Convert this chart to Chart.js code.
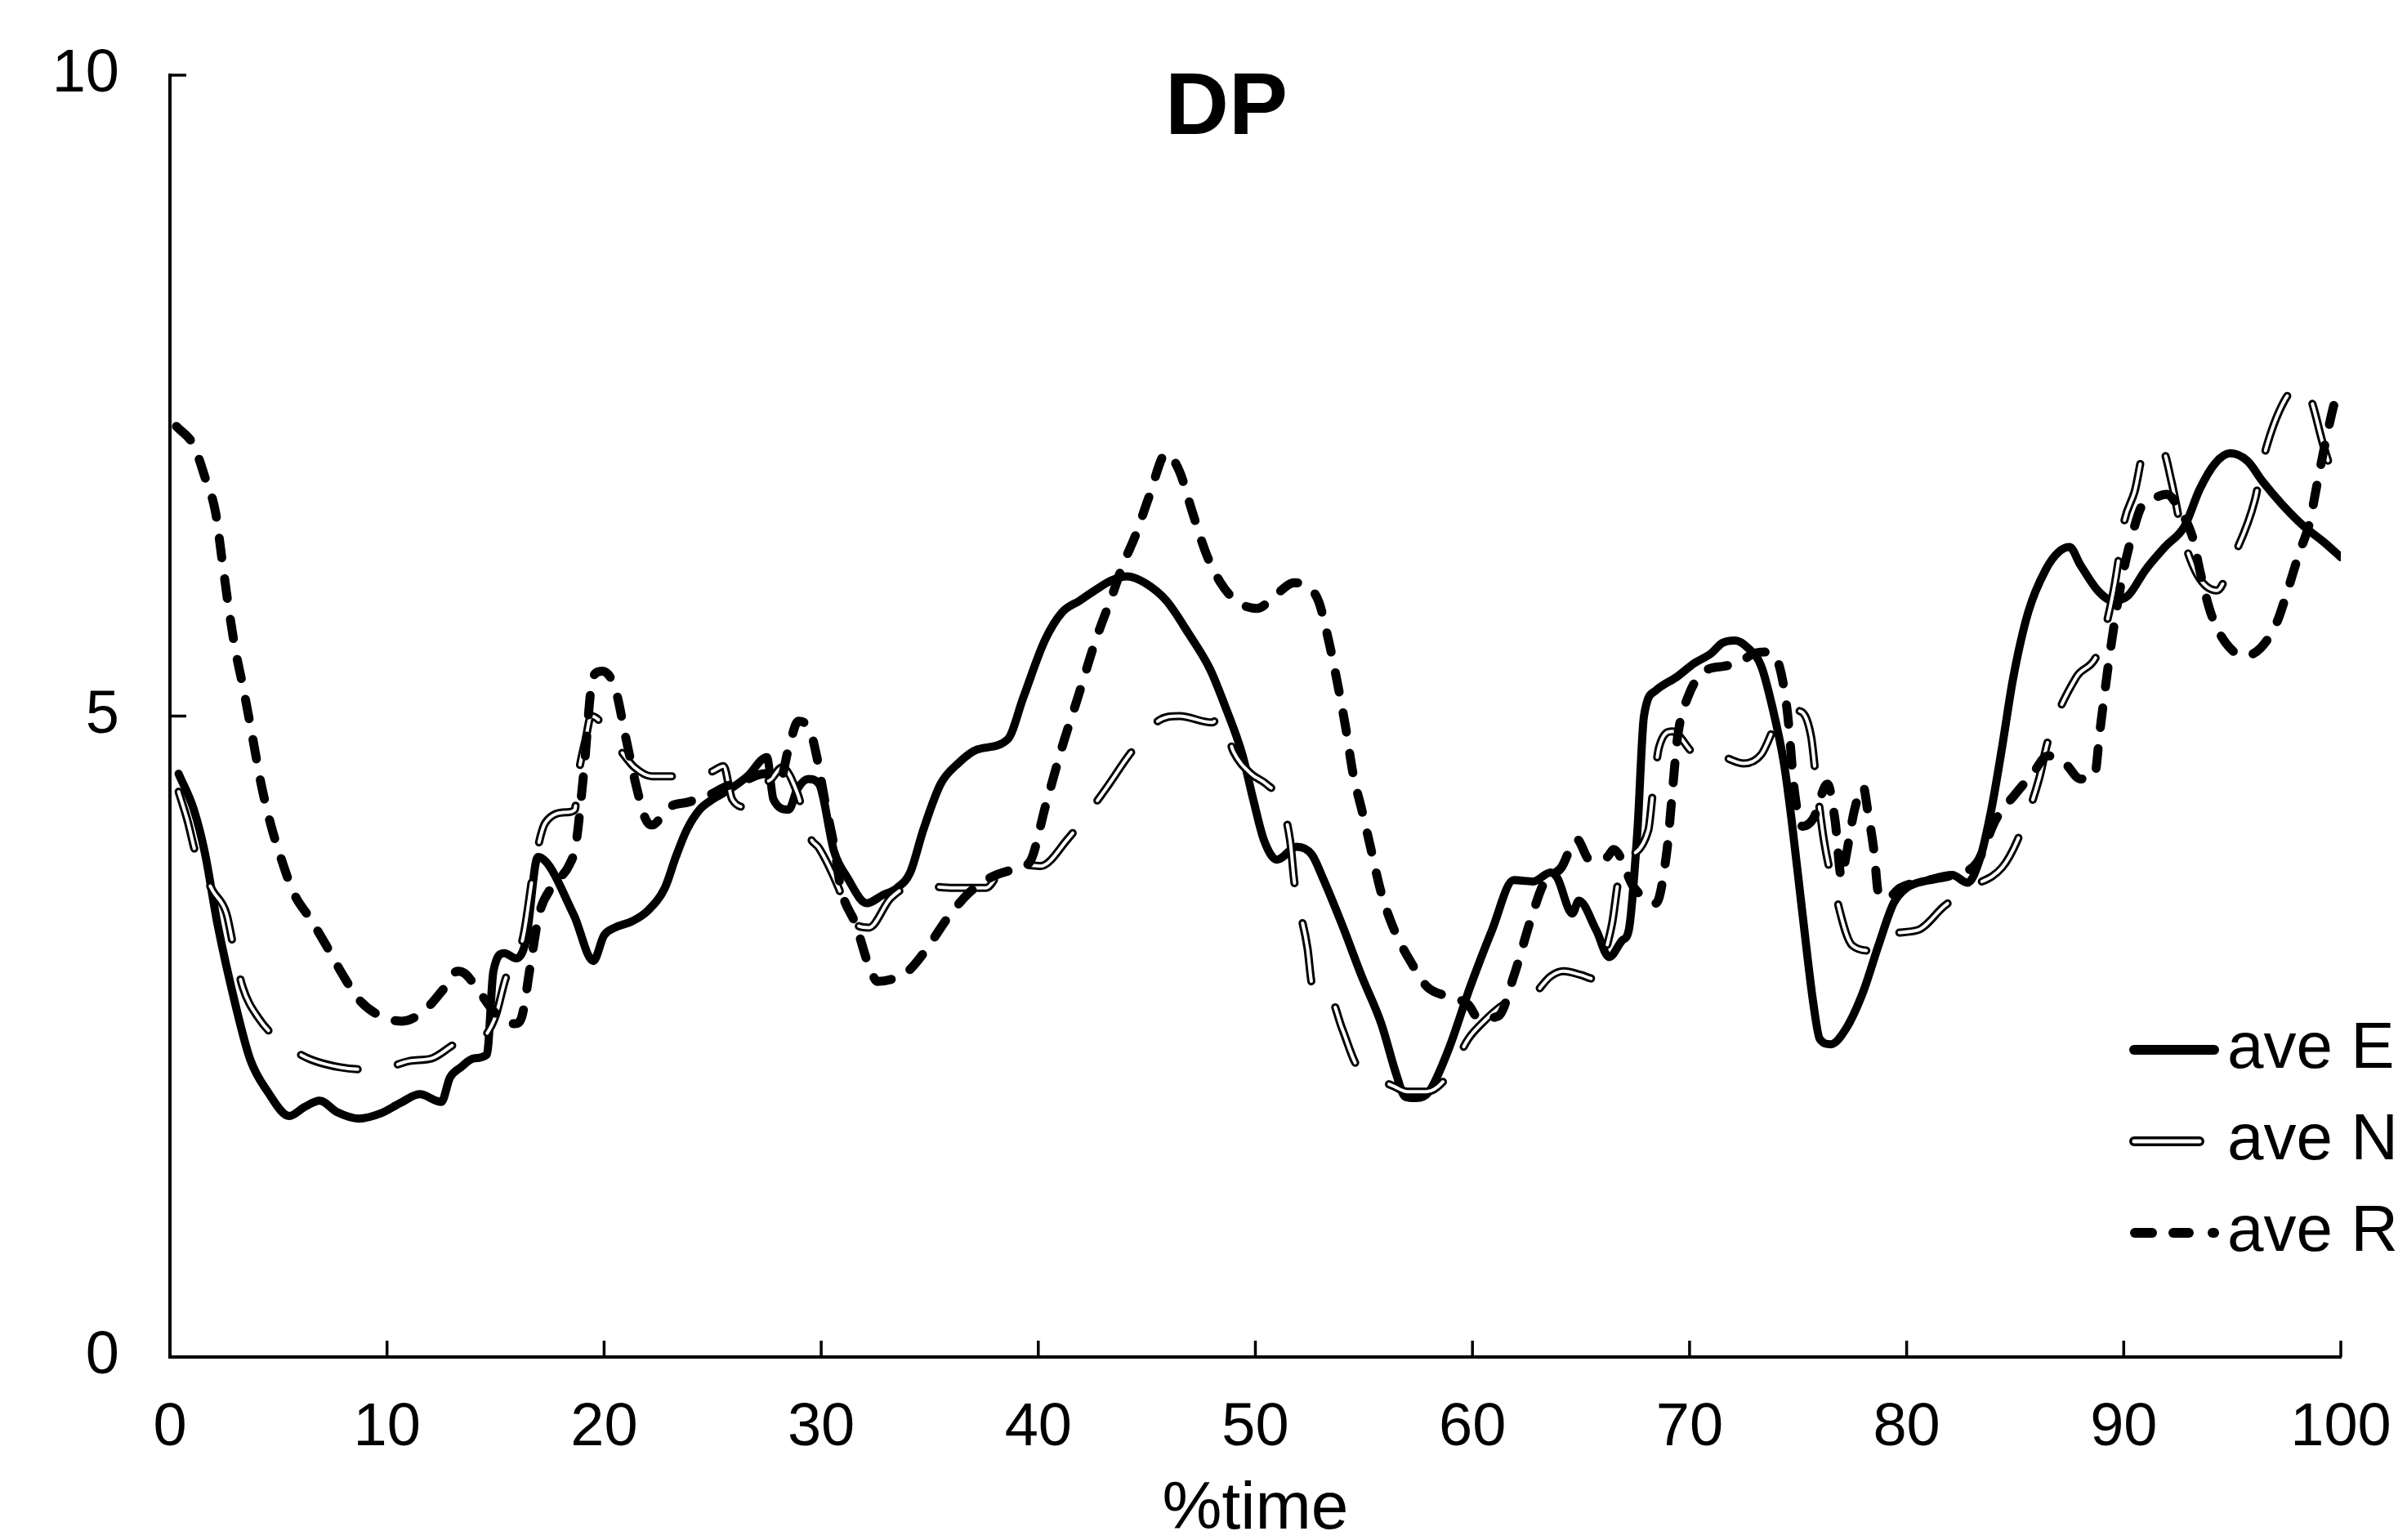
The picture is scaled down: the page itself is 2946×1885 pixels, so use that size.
<!DOCTYPE html>
<html>
<head>
<meta charset="utf-8">
<script src="https://cdn.jsdelivr.net/npm/chart.js@4.4.1/dist/chart.umd.min.js"></script>
<style>
html,body{margin:0;padding:0;background:#ffffff;}
#wrap{width:2946px;height:1885px;}
canvas{display:block;}
</style>
</head>
<body>
<div id="wrap"><canvas id="c" width="2946" height="1885"></canvas></div>
<script>
// ---------- data ----------
const TITLE = 'DP';
const X_TITLE = '%time';
const SERIES_LABELS = ['ave E', 'ave N', 'ave R'];
const X_TICKS = [0, 10, 20, 30, 40, 50, 60, 70, 80, 90, 100];
const Y_TICKS = [0, 5, 10];

const E_X = [0.4,1.1,1.6,2.2,3.0,3.7,4.5,5.5,6.2,6.9,7.7,8.7,9.7,10.6,11.5,12.5,12.9,13.4,14.0,14.6,14.9,15.4,15.95,16.4,16.95,18.6,19.5,20.0,20.5,21.3,22.0,22.8,23.3,23.8,24.4,25.0,25.8,26.6,27.5,27.8,28.5,28.9,29.4,29.9,30.6,31.2,32.1,32.8,33.5,34.1,34.7,35.5,36.3,37.2,38.6,39.3,40.3,41.1,41.9,42.6,43.4,44.1,44.9,45.9,46.9,47.9,48.6,49.4,49.9,50.4,51.0,51.9,52.6,53.1,54.0,54.9,55.8,56.5,56.9,57.4,58.0,58.9,59.9,60.9,61.9,62.8,63.6,63.9,64.6,64.9,65.7,66.3,66.9,67.2,67.6,67.9,68.45,69.45,70.2,71.0,71.5,72.1,72.7,73.3,73.8,74.35,74.7,75.2,75.7,76.0,76.5,77.2,78.0,78.7,79.4,80.0,81.0,82.1,82.8,83.4,83.9,84.4,84.9,85.6,86.4,87.0,87.5,88.0,88.8,89.5,90.2,91.0,91.9,92.8,93.5,94.2,94.9,95.7,96.4,97.3,98.3,99.2,100];
const E_Y = [4.55,4.27,3.94,3.37,2.76,2.32,2.07,1.88,1.95,2.00,1.91,1.86,1.90,1.98,2.05,1.99,2.18,2.26,2.33,2.36,3.01,3.15,3.11,3.25,3.90,3.45,3.09,3.29,3.35,3.40,3.48,3.66,3.90,4.11,4.27,4.35,4.43,4.53,4.68,4.35,4.27,4.43,4.51,4.47,3.94,3.74,3.54,3.60,3.66,3.78,4.11,4.47,4.63,4.74,4.82,5.14,5.59,5.81,5.90,5.98,6.06,6.09,6.04,5.90,5.65,5.37,5.08,4.70,4.35,4.03,3.88,3.98,3.92,3.74,3.37,2.97,2.60,2.20,2.03,2.02,2.07,2.40,2.89,3.33,3.72,3.71,3.78,3.74,3.46,3.56,3.33,3.12,3.25,3.33,4.11,5.00,5.20,5.31,5.41,5.49,5.57,5.59,5.53,5.39,5.08,4.63,4.19,3.46,2.76,2.48,2.44,2.56,2.85,3.21,3.54,3.66,3.72,3.76,3.70,3.90,4.27,4.76,5.29,5.81,6.14,6.28,6.32,6.18,5.98,5.90,5.94,6.14,6.32,6.48,6.77,6.97,7.05,6.99,6.83,6.65,6.48,6.36,6.24];

const N_X = [0.4,0.8,1.2,1.5,1.96,2.6,2.96,3.34,4.1,5.1,5.8,6.5,7.85,9.5,11.05,12.06,13.5,14.0,14.5,15.0,15.5,15.9,16.3,16.8,17.3,18.3,18.65,18.8,19.15,19.4,20.8,21.4,22.2,23.8,25.0,25.5,25.9,26.55,27.2,27.7,28.2,28.9,29.5,29.9,30.8,31.3,32.2,33.2,34.3,36.1,37.6,38.3,39.3,40.1,41.35,43.1,44.2,45.5,46.5,48.0,48.4,49.0,49.8,50.5,51.1,51.6,51.8,52.4,52.6,53.0,53.4,54.0,54.65,55.3,56.4,57.0,57.9,58.9,59.8,60.3,61.55,62.7,63.6,64.2,65.0,65.6,65.9,66.2,66.45,66.7,66.85,68.1,68.3,68.6,69.2,70.3,71.5,72.5,73.3,74.2,75.0,75.6,75.85,76.2,76.6,77.5,78.4,79.0,80.5,81.75,82.9,84.4,85.1,86.1,86.5,87.8,88.8,89.5,89.8,90.0,90.5,91.0,91.8,92.2,92.7,93.4,94.3,95.0,96.05,96.4,97.4,98.2,98.6,99.2,99.6,100];
const N_Y = [4.41,4.19,3.92,3.80,3.64,3.46,3.17,2.89,2.64,2.46,2.38,2.32,2.26,2.24,2.31,2.33,2.46,2.44,2.50,2.66,2.97,3.07,3.30,3.85,4.17,4.25,4.27,4.52,4.82,5.00,4.72,4.60,4.53,4.53,4.57,4.61,4.35,4.29,4.45,4.51,4.60,4.40,4.05,3.97,3.66,3.43,3.35,3.58,3.68,3.66,3.66,3.80,3.84,3.83,4.04,4.43,4.70,4.96,5.00,4.95,5.00,4.72,4.55,4.47,4.35,4.03,3.70,3.19,2.91,2.81,2.81,2.56,2.28,2.20,2.11,2.07,2.07,2.20,2.48,2.58,2.76,2.81,2.97,3.01,2.98,2.95,3.01,3.21,3.40,3.70,3.82,4.11,4.39,4.76,4.88,4.70,4.68,4.63,4.70,5.00,5.04,4.84,4.47,4.02,3.70,3.21,3.17,3.29,3.33,3.52,3.66,3.82,4.03,4.51,4.80,5.30,5.49,5.95,6.26,6.50,6.75,7.09,7.07,6.83,6.42,6.10,5.98,6.22,6.69,6.99,7.46,7.58,7.48,7.11,6.90,6.75];

const R_X = [0.3,1.1,1.6,2.1,2.4,2.7,3.0,3.4,3.8,4.2,4.65,5.1,5.7,6.5,7.2,8.0,8.7,9.7,10.7,11.7,12.6,13.25,13.6,14.25,14.8,15.4,15.9,16.2,16.6,17.0,17.6,18.4,18.7,19.05,19.5,19.9,20.5,21.0,21.5,21.9,22.2,23.0,23.9,24.8,25.6,26.5,27.4,28.1,28.5,28.95,29.5,29.8,30.2,30.6,30.9,31.6,32.2,32.6,33.3,34.0,34.8,35.8,36.8,37.8,38.8,39.6,40.35,41.1,41.85,42.6,43.4,43.9,44.5,45.1,45.9,46.5,47.1,47.75,48.4,49.1,50.1,50.9,51.8,52.3,52.9,53.4,53.8,54.15,54.5,54.9,55.3,55.8,56.4,57.2,57.9,58.9,59.8,60.3,61.2,61.9,62.7,63.3,64.1,64.8,65.4,66.2,66.5,67.45,68.45,68.95,69.2,69.45,69.95,70.7,71.6,72.2,73.0,73.6,74.1,74.5,74.85,75.2,75.7,76.35,76.7,77.0,77.2,77.6,78.0,78.2,78.5,78.7,79.1,79.7,81.0,82.1,83.25,84.1,85.0,85.8,86.5,87.3,88.0,88.65,88.9,89.3,89.65,90.0,90.4,90.8,91.3,92.0,92.5,93.2,93.5,94.0,94.7,95.55,96.3,97.05,97.55,98.06,98.56,98.93,99.31,99.81,100];
const R_Y = [7.26,7.11,6.87,6.59,6.22,5.85,5.53,5.20,4.84,4.47,4.15,3.90,3.62,3.41,3.21,2.97,2.79,2.66,2.62,2.70,2.87,3.01,2.99,2.85,2.72,2.62,2.60,2.65,3.05,3.45,3.67,3.84,4.00,4.54,5.31,5.35,5.22,4.83,4.44,4.20,4.15,4.29,4.33,4.38,4.45,4.50,4.55,4.50,4.75,4.96,4.88,4.68,4.31,3.98,3.66,3.37,3.05,2.93,2.95,3.01,3.17,3.42,3.62,3.74,3.80,3.86,4.31,4.76,5.16,5.57,5.94,6.18,6.42,6.71,7.05,6.91,6.59,6.26,6.04,5.90,5.84,5.94,6.04,6.02,5.90,5.57,5.24,4.92,4.55,4.27,3.98,3.62,3.33,3.07,2.89,2.81,2.75,2.64,2.66,2.97,3.42,3.70,3.82,4.04,3.88,3.90,3.96,3.66,3.54,3.94,4.39,4.84,5.16,5.35,5.39,5.41,5.49,5.50,5.41,5.04,4.39,4.14,4.20,4.47,4.19,3.74,3.90,4.27,4.45,4.27,3.94,3.62,3.58,3.66,3.72,3.76,3.86,4.19,4.39,4.55,4.69,4.63,4.51,4.53,4.88,5.41,5.81,6.14,6.42,6.63,6.69,6.73,6.63,6.38,6.14,5.81,5.57,5.47,5.53,5.73,5.98,6.26,6.51,6.83,7.15,7.50,7.55];

// ---------- helpers ----------
const FONT = '"Liberation Sans", Arial, sans-serif';
const pts = (xs, ys) => xs.map((x, i) => ({ x: x, y: ys[i] }));

function marker(kind) {
  const c = document.createElement('canvas');
  c.width = 112; c.height = 26;
  const g = c.getContext('2d');
  const y = 13;
  g.lineCap = 'round';
  const seg = (a, b, w, col) => { g.beginPath(); g.lineWidth = w; g.strokeStyle = col; g.moveTo(a, y); g.lineTo(b, y); g.stroke(); };
  if (kind === 'E') { seg(7, 105, 12, '#000'); }
  if (kind === 'N') { seg(7, 87, 12, '#000'); seg(7, 87, 5, '#fff'); }
  if (kind === 'R') { seg(8, 29, 12, '#000'); seg(55, 74, 12, '#000'); seg(103, 105, 12, '#000'); }
  return c;
}
const MARKERS = [marker('E'), marker('N'), marker('R')];

const common = {
  pointRadius: 0, pointHoverRadius: 0, fill: false,
  borderCapStyle: 'round', borderJoinStyle: 'round',
  cubicInterpolationMode: 'monotone'
};

const tickMarks = {
  id: 'tickMarks',
  afterDraw(chart) {
    const { ctx, chartArea: a, scales: { x, y } } = chart;
    ctx.save();
    ctx.strokeStyle = '#000';
    ctx.lineWidth = 3.5;
    ctx.beginPath();
    X_TICKS.forEach(v => { const px = x.getPixelForValue(v); ctx.moveTo(px, a.bottom); ctx.lineTo(px, a.bottom - 20); });
    Y_TICKS.forEach(v => { const py = y.getPixelForValue(v); ctx.moveTo(a.left, py); ctx.lineTo(a.left + 20, py); });
    ctx.stroke();
    ctx.restore();
  }
};

const titleText = {
  id: 'titleText',
  afterDraw(chart) {
    const ctx = chart.ctx;
    ctx.save();
    ctx.fillStyle = '#000';
    ctx.font = 'bold 108px ' + FONT;
    ctx.textAlign = 'center';
    ctx.textBaseline = 'middle';
    ctx.fillText(TITLE, 1501, 134);
    ctx.restore();
  }
};

const legendPlace = {
  id: 'legendPlace',
  afterLayout(chart) {
    const lg = chart.legend;
    if (!lg) return;
    lg.left = 2604; lg.top = 1213; lg.right = 2946; lg.bottom = 1885;
    lg.width = lg.right - lg.left; lg.height = lg.bottom - lg.top;
  }
};

new Chart(document.getElementById('c'), {
  type: 'line',
  data: {
    datasets: [
      Object.assign({ label: SERIES_LABELS[0], data: pts(E_X, E_Y), borderColor: '#000', borderWidth: 10, order: 3 }, common),
      Object.assign({ label: SERIES_LABELS[1], data: pts(N_X, N_Y), borderColor: '#000', borderWidth: 10, borderDash: [72, 50], order: 2 }, common),
      Object.assign({ label: SERIES_LABELS[1] + ' inner', data: pts(N_X, N_Y), borderColor: '#fff', borderWidth: 4, borderDash: [72, 50], order: 1 }, common),
      Object.assign({ label: SERIES_LABELS[2], data: pts(R_X, R_Y), borderColor: '#000', borderWidth: 11, borderDash: [24, 26], order: 0 }, common)
    ]
  },
  options: {
    responsive: false,
    animation: false,
    devicePixelRatio: 1,
    events: [],
    layout: { padding: { left: 0, right: 81, top: 92, bottom: 0 } },
    scales: {
      x: {
        type: 'linear', position: 'bottom', min: 0, max: 100,
        afterBuildTicks: s => { s.ticks = X_TICKS.map(v => ({ value: v })); },
        afterFit: s => { s.height = 224; s.paddingLeft = 0; s.paddingRight = 0; s.paddingTop = 0; s.paddingBottom = 0; },
        grid: { display: true, drawOnChartArea: false, drawTicks: false },
        border: { display: true, color: '#000', width: 4 },
        ticks: { color: '#000', font: { family: FONT, size: 74 }, padding: 43, maxRotation: 0, autoSkip: false },
        title: { display: true, text: X_TITLE, color: '#000', font: { family: FONT, size: 82, lineHeight: 0.9 }, padding: 0 }
      },
      y: {
        type: 'linear', position: 'left', min: 0, max: 10,
        afterBuildTicks: s => { s.ticks = Y_TICKS.map(v => ({ value: v })); },
        afterFit: s => { s.width = 208; s.paddingLeft = 0; s.paddingRight = 0; s.paddingTop = 0; s.paddingBottom = 0; },
        grid: { display: true, drawOnChartArea: false, drawTicks: false },
        border: { display: true, color: '#000', width: 4 },
        ticks: { color: '#000', font: { family: FONT, size: 74 }, padding: 62 }
      }
    },
    plugins: {
      title: { display: false },
      tooltip: { enabled: false },
      legend: {
        display: true,
        position: 'chartArea',
        align: 'start',
        labels: {
          usePointStyle: true,
          pointStyleWidth: 50,
          padding: 32,
          color: '#000',
          font: { family: FONT, size: 80 },
          generateLabels: () => [0, 1, 2].map(i => ({
            text: SERIES_LABELS[i], pointStyle: MARKERS[i], fontColor: '#000',
            fillStyle: '#000', strokeStyle: '#000', lineWidth: 0, hidden: false,
            datasetIndex: i === 2 ? 3 : i
          }))
        }
      }
    }
  },
  plugins: [tickMarks, titleText, legendPlace]
});
</script>
</body>
</html>
